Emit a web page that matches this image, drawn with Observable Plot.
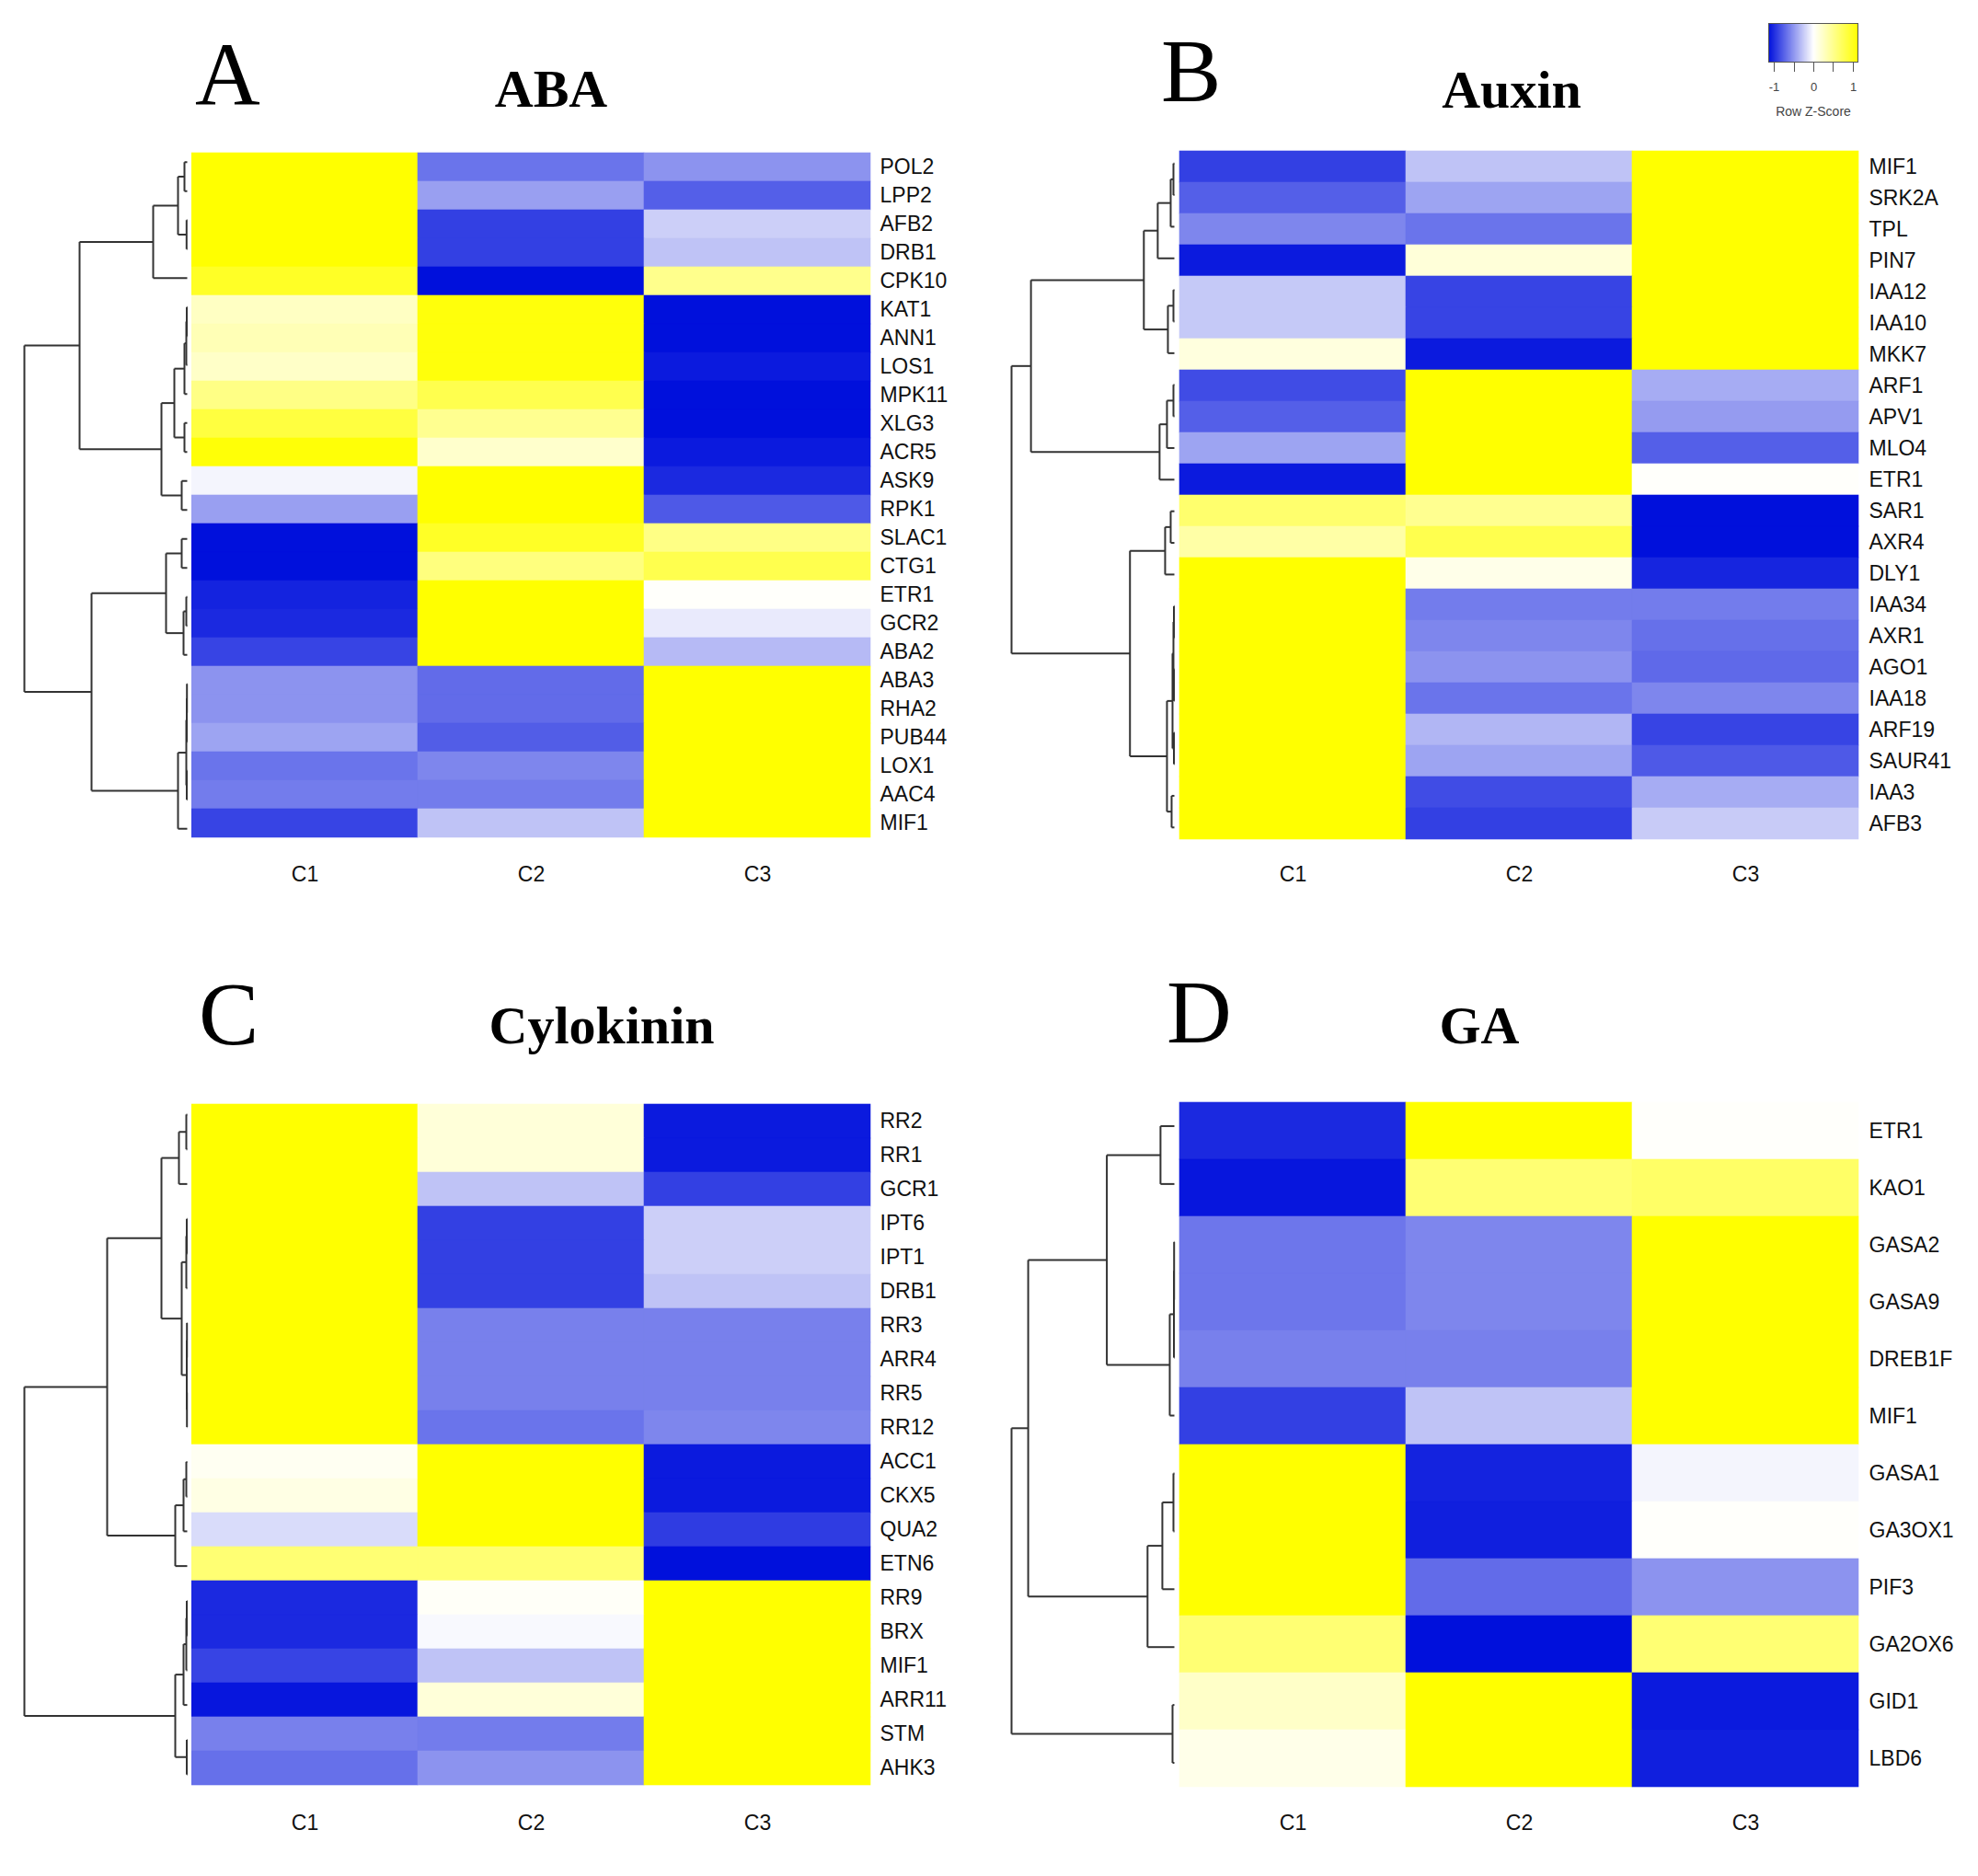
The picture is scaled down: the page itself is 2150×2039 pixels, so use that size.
<!DOCTYPE html>
<html><head><meta charset="utf-8">
<script src="https://cdn.jsdelivr.net/npm/d3@7"></script>
<script src="https://cdn.jsdelivr.net/npm/@observablehq/plot@0.6"></script>
<style>
body{margin:0;background:#fff;}
#root{position:relative;width:2150px;height:2039px;background:#fff;overflow:hidden;}
.letter{font-family:"Liberation Serif","Times New Roman",serif;font-size:98px;line-height:1;color:#000;white-space:nowrap;}
.title{font-family:"Liberation Serif","Times New Roman",serif;font-weight:bold;font-size:58px;line-height:1;text-align:center;width:600px;color:#000;white-space:nowrap;}
.legtitle{font-family:"Liberation Sans",Arial,sans-serif;font-size:14px;line-height:1;color:#444;text-align:center;width:120px;}
</style></head><body><div id="root"></div><script>
// ---------- data ----------
const conds = ["C1", "C2", "C3"];
const zTicks = [-1, -0.5, 0, 0.5, 1];
const zTickLabels = ["-1", "", "0", "", "1"];

const abaGenes = ["POL2","LPP2","AFB2","DRB1","CPK10","KAT1","ANN1","LOS1","MPK11","XLG3","ACR5","ASK9","RPK1","SLAC1","CTG1","ETR1","GCR2","ABA2","ABA3","RHA2","PUB44","LOX1","AAC4","MIF1"];
const abaC1 = [1.15,1.15,1.15,1.15,0.98,0.27,0.33,0.25,0.55,0.86,1.12,-0.05,-0.46,-1.15,-1.15,-1.06,-1.03,-0.9,-0.52,-0.52,-0.44,-0.67,-0.63,-0.9];
const abaC2 = [-0.67,-0.46,-0.92,-0.92,-1.15,1.1,1.1,1.1,0.8,0.5,0.23,1.15,1.15,0.98,0.58,1.15,1.15,1.15,-0.71,-0.71,-0.78,-0.58,-0.63,-0.29];
const abaC3 = [-0.52,-0.77,-0.23,-0.29,0.52,-1.15,-1.15,-1.1,-1.15,-1.15,-1.1,-1.03,-0.8,0.55,0.8,0.02,-0.1,-0.33,1.15,1.15,1.15,1.15,1.15,1.15];
const abaTree = [177,
  [117,
    [37, [10, [3, "POL2", "LPP2"], [0.7, "AFB2", "DRB1"]], "CPK10"],
    [28, [14, [3, [1, [0.5, "KAT1", "ANN1"], "LOS1"], "MPK11"], [3, "XLG3", "ACR5"]], [6, "ASK9", "RPK1"]]],
  [104,
    [23, [6, "SLAC1", "CTG1"], [4, [1, "ETR1", "GCR2"], "ABA2"]],
    [10, [1, [0.5, [0.3, "ABA3", "RHA2"], "PUB44"], [0.5, "LOX1", "AAC4"]], "MIF1"]]];

const auxGenes = ["MIF1","SRK2A","TPL","PIN7","IAA12","IAA10","MKK7","ARF1","APV1","MLO4","ETR1","SAR1","AXR4","DLY1","IAA34","AXR1","AGO1","IAA18","ARF19","SAUR41","IAA3","AFB3"];
const auxC1 = [-0.92,-0.77,-0.58,-1.1,-0.26,-0.26,0.15,-0.86,-0.77,-0.44,-1.1,0.66,0.4,1.15,1.15,1.15,1.15,1.15,1.15,1.15,1.15,1.15];
const auxC2 = [-0.29,-0.44,-0.67,0.17,-0.9,-0.9,-1.1,1.15,1.15,1.15,1.15,0.5,0.8,0.1,-0.63,-0.58,-0.52,-0.67,-0.35,-0.44,-0.86,-0.92];
const auxC3 = [1.15,1.15,1.15,1.15,1.15,1.15,1.15,-0.4,-0.48,-0.77,0.02,-1.15,-1.15,-1.05,-0.63,-0.69,-0.72,-0.58,-0.9,-0.8,-0.4,-0.25];
const auxTree = [176,
  [155,
    [33, [18, [4, [1, "MIF1", "SRK2A"], "TPL"], "PIN7"], [7, [1, "IAA12", "IAA10"], "MKK7"]],
    [16, [8, [1, "ARF1", "APV1"], "MLO4"], "ETR1"]],
  [48,
    [10, [4, "SAR1", "AXR4"], "DLY1"],
    [8, [2, [1, [0.5, "IAA34", "AXR1"], [0.5, "AGO1", "IAA18"]], [0.5, "ARF19", "SAUR41"]], [3, "IAA3", "AFB3"]]]];

const cytGenes = ["RR2","RR1","GCR1","IPT6","IPT1","DRB1","RR3","ARR4","RR5","RR12","ACC1","CKX5","QUA2","ETN6","RR9","BRX","MIF1","ARR11","STM","AHK3"];
const cytC1 = [1.15,1.15,1.15,1.15,1.15,1.15,1.15,1.15,1.15,1.15,0.06,0.12,-0.17,0.63,-1.03,-1.03,-0.9,-1.12,-0.61,-0.69];
const cytC2 = [0.17,0.17,-0.29,-0.92,-0.92,-0.92,-0.61,-0.61,-0.61,-0.67,1.15,1.15,1.15,0.63,0.03,-0.03,-0.29,0.17,-0.63,-0.52];
const cytC3 = [-1.1,-1.1,-0.92,-0.23,-0.23,-0.29,-0.61,-0.61,-0.61,-0.58,-1.1,-1.1,-0.94,-1.15,1.15,1.15,1.15,1.15,1.15,1.15];
const cytTree = [177,
  [87,
    [28, [9, [1, "RR2", "RR1"], "GCR1"], [6, [1, [0.5, "IPT6", "IPT1"], "DRB1"], [0.5, [0.3, "RR3", "ARR4"], [0.3, "RR5", "RR12"]]]],
    [13, [4, [1, "ACC1", "CKX5"], "QUA2"], "ETN6"]],
  [13, [4, [1, [0.5, "RR9", "BRX"], "MIF1"], "ARR11"], [0.5, "STM", "AHK3"]]];

const gaGenes = ["ETR1","KAO1","GASA2","GASA9","DREB1F","MIF1","GASA1","GA3OX1","PIF3","GA2OX6","GID1","LBD6"];
const gaC1 = [-1.03,-1.12,-0.66,-0.66,-0.61,-0.92,1.15,1.15,1.15,0.63,0.25,0.1];
const gaC2 = [1.15,0.63,-0.58,-0.58,-0.61,-0.29,-1.06,-1.08,-0.71,-1.15,1.15,1.15];
const gaC3 = [0.02,0.69,1.15,1.15,1.15,1.15,-0.05,0.02,-0.52,0.63,-1.1,-1.08];
const gaTree = [176,
  [158,
    [73, [15, "ETR1", "KAO1"], [5, [0.5, [0.3, "GASA2", "GASA9"], "DREB1F"], "MIF1"]],
    [29, [13, [1, "GASA1", "GA3OX1"], "PIF3"], "GA2OX6"]],
  [2, "GID1", "LBD6"]];

const letters = ["A", "B", "C", "D"];
const titles = ["ABA", "Auxin", "Cylokinin", "GA"];

// ---------- helpers ----------
const colorOpts = {type: "linear", domain: [-1.15, 0, 1.15], range: ["#0010dc", "#ffffff", "#ffff00"], interpolate: "rgb", clamp: true};

function table(genes, c1, c2, c3) {
  const cols = [c1, c2, c3];
  const rows = [];
  genes.forEach((g, i) => conds.forEach((c, j) => rows.push({g, c, z: cols[j][i]})));
  return rows;
}
function dendroSegments(tree, genes) {
  const segs = [];
  function walk(node) {
    if (typeof node === "string") return {y: genes.indexOf(node), h: 0};
    const [h, ...kids] = node;
    const res = kids.map(walk);
    const y = (res[0].y + res[res.length - 1].y) / 2;
    segs.push({x1: h, x2: h, y1: res[0].y, y2: res[res.length - 1].y});
    res.forEach(r => segs.push({x1: h, x2: r.h, y1: r.y, y2: r.y}));
    return {y, h};
  }
  walk(tree);
  return segs;
}

const root = document.getElementById("root");
function place(el, left, top) {
  el.style.position = "absolute"; el.style.left = left + "px"; el.style.top = top + "px";
  root.appendChild(el);
}

const panels = [
  {genes: abaGenes, c1: abaC1, c2: abaC2, c3: abaC3, tree: abaTree, hx: 208, hy: 160, hw: 738, hh: 756, lx: 212, lb: 113, tcx: 599, tb: 117},
  {genes: auxGenes, c1: auxC1, c2: auxC2, c3: auxC3, tree: auxTree, hx: 1281, hy: 160, hw: 740, hh: 756, lx: 1262, lb: 110, tcx: 1643, tb: 118},
  {genes: cytGenes, c1: cytC1, c2: cytC2, c3: cytC3, tree: cytTree, hx: 208, hy: 1192, hw: 738, hh: 755, lx: 216, lb: 1135, tcx: 654, tb: 1135},
  {genes: gaGenes, c1: gaC1, c2: gaC2, c3: gaC3, tree: gaTree, hx: 1281, hy: 1192, hw: 740, hh: 755, lx: 1268, lb: 1133, tcx: 1608, tb: 1135}
];

panels.forEach((p, k) => {
  const hm = Plot.plot({
    width: p.hw + 130, height: p.hh + 58,
    marginLeft: 0, marginTop: 0, marginRight: 130, marginBottom: 58,
    x: {domain: conds, padding: 0, label: null, axis: "bottom", tickSize: 0, tickPadding: 25},
    y: {domain: p.genes, padding: 0, label: null, axis: "right", tickSize: 0, tickPadding: 10},
    color: colorOpts,
    style: {fontFamily: "'Liberation Sans', Arial, sans-serif", fontSize: "23px", color: "#111", background: "transparent"},
    marks: [
      Plot.cell(table(p.genes, p.c1, p.c2, p.c3), {x: "c", y: "g", fill: "z", stroke: "z", strokeWidth: 0.6, inset: 0})
    ]
  });
  place(hm, p.hx, p.hy);

  const n = p.genes.length;
  const hmax = p.tree[0];
  const dg = Plot.plot({
    width: 190, height: p.hh,
    marginLeft: 8, marginRight: 5, marginTop: 0, marginBottom: 0,
    x: {domain: [hmax, 0], axis: null},
    y: {domain: [-0.5, n - 0.5], reverse: true, axis: null},
    style: {background: "transparent"},
    marks: [
      Plot.link(dendroSegments(p.tree, p.genes), {x1: "x1", y1: "y1", x2: "x2", y2: "y2", stroke: "#333", strokeWidth: 2})
    ]
  });
  place(dg, p.hx - 190, p.hy);

  const L = document.createElement("div");
  L.className = "letter"; L.textContent = letters[k];
  place(L, p.lx, p.lb - Math.round(0.8375 * 98));
  const T = document.createElement("div");
  T.className = "title"; T.textContent = titles[k];
  place(T, p.tcx - 300, p.tb - Math.round(0.8375 * 58));
});

// colour key
const leg = Plot.legend({
  color: colorOpts, label: null,
  width: 118, height: 83, marginLeft: 10, marginRight: 10, marginTop: 0, marginBottom: 40,
  tickSize: 10, ticks: zTicks,
  tickFormat: d => zTickLabels[zTicks.indexOf(d)],
  style: {fontFamily: "'Liberation Sans', Arial, sans-serif", fontSize: "13px", color: "#444", background: "transparent"}
});
d3.select(leg).selectAll(".tick line").attr("y1", 0).attr("stroke", "#555");
d3.select(leg).selectAll(".tick text").attr("y", 22);
place(leg, 1912, 25);
const box = document.createElement("div");
box.style.cssText = "width:98px;height:43px;border:1.5px solid #555;box-sizing:border-box;";
place(box, 1922, 25);
const lt = document.createElement("div");
lt.className = "legtitle"; lt.textContent = "Row Z-Score";
place(lt, 1911, 114);
</script></body></html>
